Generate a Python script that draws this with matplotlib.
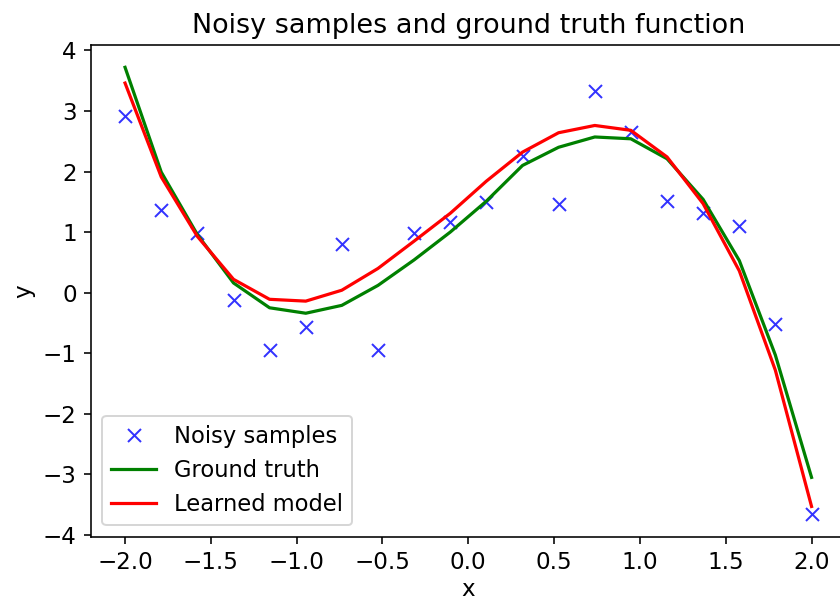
import matplotlib
matplotlib.use("Agg")
import matplotlib.pyplot as plt

# sample positions along x
x_vals = [-2.0, -1.789, -1.579, -1.368, -1.158, -0.947, -0.737, -0.526, -0.316, -0.105,
          0.105, 0.316, 0.526, 0.737, 0.947, 1.158, 1.368, 1.579, 1.789, 2.0]

# noisy observations
noisy_y = [2.92, 1.36, 0.99, -0.12, -0.94, -0.56, 0.80, -0.94, 0.99, 1.17,
           1.50, 2.25, 1.47, 3.33, 2.65, 1.52, 1.32, 1.10, -0.51, -3.66]

# ground truth function
truth_y = [3.72, 1.99, 0.96, 0.16, -0.25, -0.34, -0.21, 0.12, 0.54, 1.00,
           1.51, 2.10, 2.40, 2.57, 2.54, 2.21, 1.54, 0.53, -1.03, -3.05]

# learned model predictions
model_y = [3.46, 1.91, 0.93, 0.22, -0.11, -0.14, 0.04, 0.40, 0.85, 1.31,
           1.84, 2.32, 2.64, 2.76, 2.68, 2.24, 1.47, 0.36, -1.28, -3.53]

plt.rcParams["font.size"] = 11.5

fig = plt.figure(figsize=(840 / 144, 602 / 144), dpi=144)
ax = fig.add_axes([0.108, 0.1085, 0.899, 0.8168])

ax.plot(x_vals, noisy_y, "bx", alpha=0.8, markersize=6.5, label="Noisy samples")
ax.plot(x_vals, truth_y, "g", linewidth=1.6, label="Ground truth")
ax.plot(x_vals, model_y, "r", linewidth=1.6, label="Learned model")

ax.tick_params(labelsize=11.5)
ax.set_xlabel("x", fontsize=11.5, labelpad=2)
ax.set_ylabel("y", fontsize=11.5)
ax.set_title("Noisy samples and ground truth function", fontsize=13.5)
ax.legend(loc="lower left", fontsize=11.3)

fig.savefig("out.png", dpi=144)
